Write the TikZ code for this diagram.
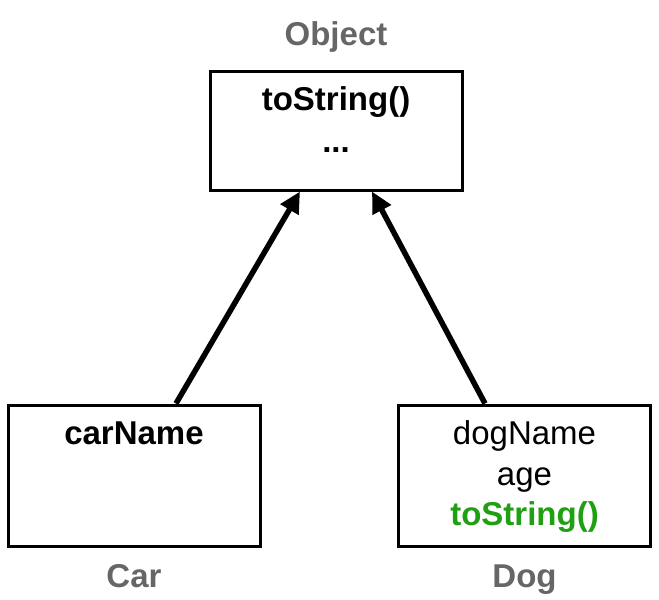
\documentclass[tikz,border=0pt]{standalone}
\usepackage{fontspec}
\setmainfont{Liberation Sans}
\usetikzlibrary{arrows.meta}
\definecolor{labelgray}{HTML}{666666}
\definecolor{methodgreen}{HTML}{1FA012}
\tikzset{
  classbox/.style={draw, line width=1.5pt, minimum width=126pt},
  member/.style={anchor=base, font=\fontsize{16.5}{20}\selectfont\bfseries},
  plainmember/.style={anchor=base, font=\fontsize{16.5}{20}\selectfont},
  classname/.style={anchor=base, font=\fontsize{16.5}{20}\selectfont\bfseries, text=labelgray},
  inherit/.style={line width=2.75pt, -{Triangle[length=10.5pt,width=10pt]}}
}
\begin{document}
\begin{tikzpicture}[x=0.5pt,y=-0.5pt]
\useasboundingbox (0,0) rectangle (659,600);
\node[classbox, minimum height=59.5pt] (obj) at (336,130.5) {};
\node[classbox, minimum height=70.5pt] (car) at (134,475.5) {};
\node[classbox, minimum height=70.5pt] (dog) at (524.5,475.5) {};
\node[classname] (objname) at (336,45) {Object};
\node[classname] (carname) at (134,587) {Car};
\node[classname] (dogname) at (524.5,587) {Dog};
\node[member] (objtostr) at (336,110) {toString()};
\node[member] (objdots) at (336,152) {...};
\node[member] (carfield) at (134,444) {carName};
\node[plainmember] (dogfield) at (524.5,444) {dogName};
\node[plainmember] (agefield) at (524.5,485) {age};
\node[member, text=methodgreen] (dogtostr) at (524.5,525) {toString()};
\draw[inherit] ([xshift=21pt]car.north) -- ([xshift=-18pt]obj.south);
\draw[inherit] ([xshift=-19.75pt]dog.north) -- ([xshift=18pt]obj.south);
\end{tikzpicture}
\end{document}
